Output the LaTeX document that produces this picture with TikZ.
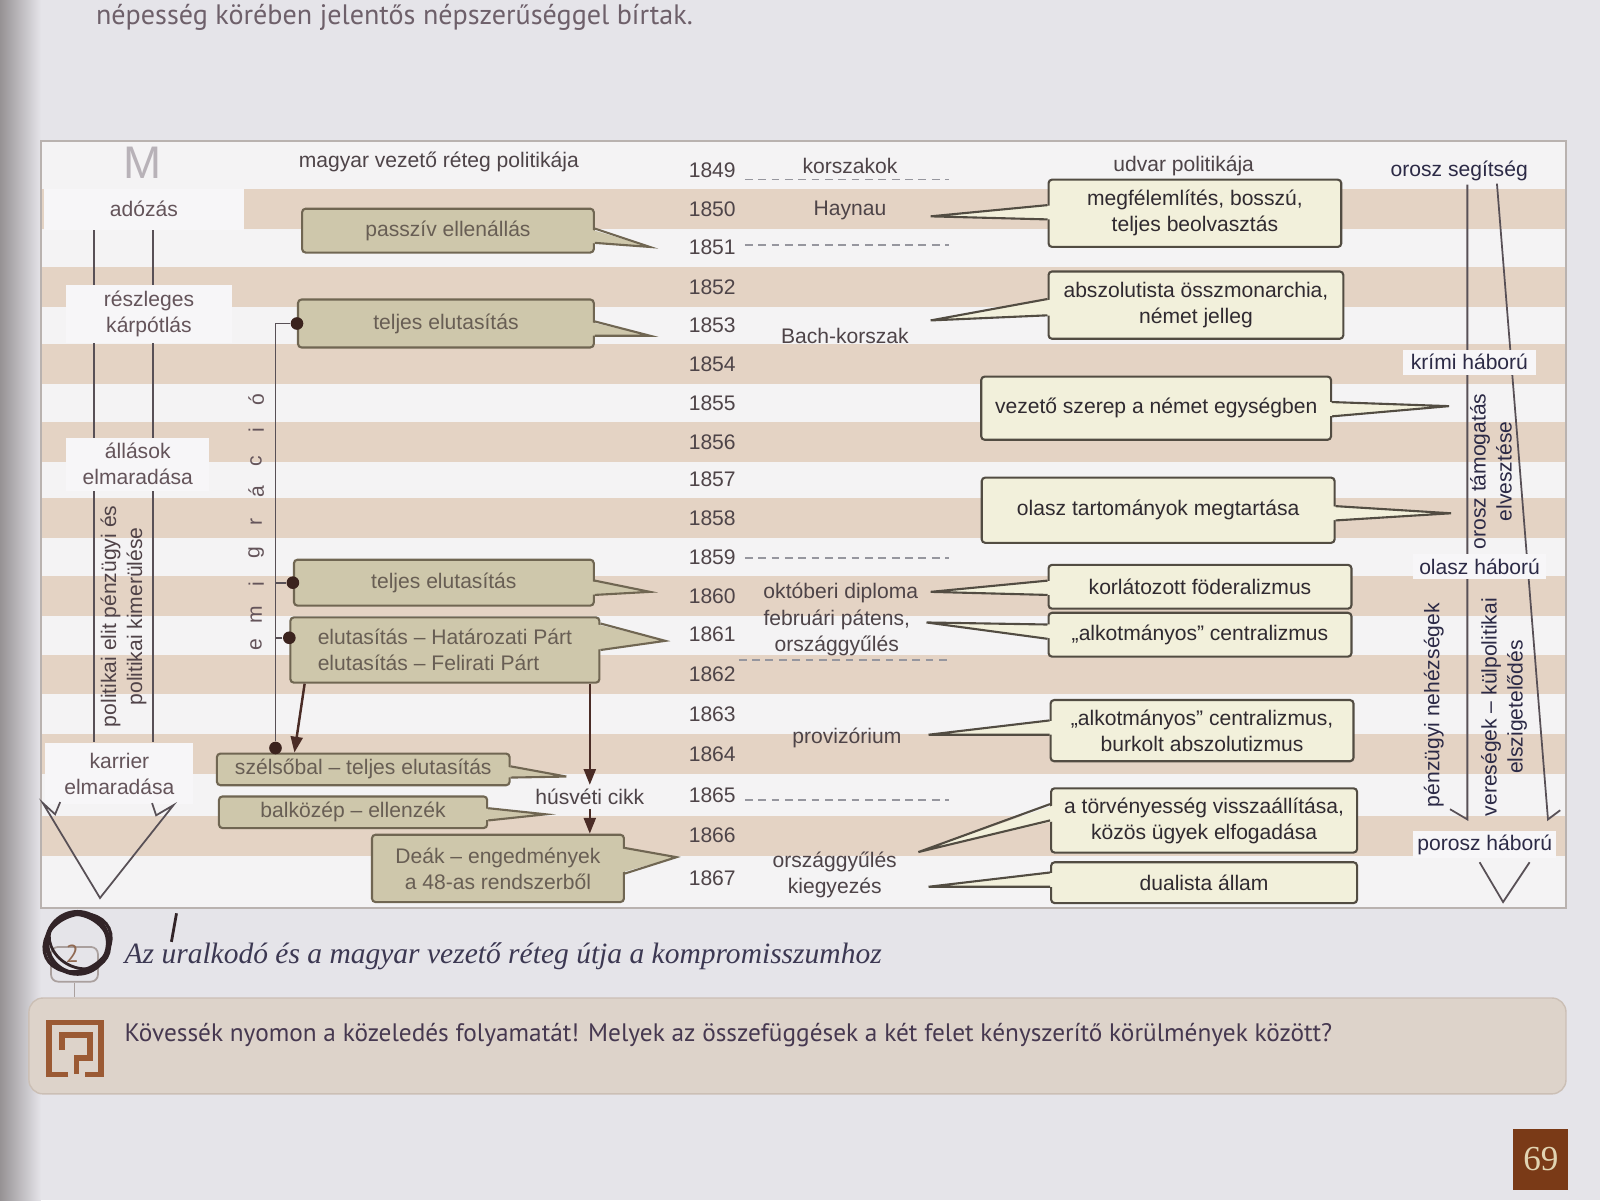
\documentclass[tikz,border=0pt]{standalone}
\usepackage{fontspec}
\setmainfont{Liberation Sans}
\newfontfamily\pagefont{PT Sans}
\newfontfamily\capfont{Liberation Serif}
\usetikzlibrary{arrows.meta,calc}

\pgfdeclarelayer{bg}
\pgfdeclarelayer{trend}
\pgfsetlayers{bg,trend,main}

\definecolor{pagebg}{RGB}{229,228,233}
\definecolor{spine}{RGB}{150,146,148}
\definecolor{framebg}{RGB}{244,243,244}
\definecolor{frameline}{RGB}{185,178,175}
\definecolor{stripe}{RGB}{228,211,196}
\definecolor{olivefill}{RGB}{206,199,171}
\definecolor{oliveline}{RGB}{112,102,82}
\definecolor{olivetext}{RGB}{104,94,84}
\definecolor{creamfill}{RGB}{242,240,219}
\definecolor{creamline}{RGB}{82,76,66}
\definecolor{creamtext}{RGB}{48,42,48}
\definecolor{whitelab}{RGB}{247,246,248}
\definecolor{lefttext}{RGB}{100,84,90}
\definecolor{righttext}{RGB}{44,42,70}
\definecolor{yeartext}{RGB}{78,68,72}
\definecolor{mlogo}{RGB}{184,178,184}
\definecolor{inkline}{RGB}{88,80,86}
\definecolor{arrowbrown}{RGB}{74,44,38}
\definecolor{dashgrey}{RGB}{150,150,158}
\definecolor{qfill}{RGB}{221,211,202}
\definecolor{qline}{RGB}{203,191,181}
\definecolor{qbrown}{RGB}{155,90,52}
\definecolor{qtext}{RGB}{70,56,80}
\definecolor{taggrey}{RGB}{170,160,158}
\definecolor{pnbrown}{RGB}{122,58,23}
\definecolor{pncream}{RGB}{225,212,178}
\definecolor{captext}{RGB}{60,56,82}
\definecolor{toptext}{RGB}{110,96,106}
\definecolor{pen}{RGB}{50,36,40}

\newcommand{\upx}{0.2903pt}
% speech-bubble tongue: colour prefix, box, side, two offsets, tip
\newcommand{\tongue}[6]{%
  \fill[#1fill] ($(#2.#3)!2pt!(#2.center)+(0,#4)$) -- (#6) -- ($(#2.#3)!2pt!(#2.center)+(0,#5)$) -- cycle;
  \draw[#1line, line width=0.6pt] ($(#2.#3)+(0,#4)$) -- (#6) -- ($(#2.#3)+(0,#5)$);}

\begin{document}
\begin{tikzpicture}[x=0.010204cm, y=-0.010204cm,
    every node/.style={font=\fontsize{6}{7.4}\selectfont, inner sep=1pt},
    boxsize/.style 2 args={minimum width=#1*\upx, minimum height=#2*\upx},
    olivebox/.style={draw=oliveline, fill=olivefill, text=olivetext, line width=0.6pt, rounded corners=1pt, align=center},
    creambox/.style={draw=creamline, fill=creamfill, text=creamtext, line width=0.6pt, rounded corners=1pt, align=center},
    leftlab/.style={fill=whitelab, text=lefttext, align=center},
    rightlab/.style={fill=whitelab, text=righttext, align=center},
    midlab/.style={text=yeartext, align=center},
    trendtext/.style={rotate=90, align=center},
    era/.style={draw=dashgrey, dash pattern=on 2.2pt off 1.6pt, line width=0.5pt},
    ink/.style={draw=inkline, line width=0.5pt, line join=miter},
    push/.style={draw=arrowbrown, line width=0.7pt, -{Triangle[length=4.5pt,width=3.4pt]}},
    dot/.style={circle, fill=arrowbrown!80!black, inner sep=0pt, minimum size=3.6pt}]
\useasboundingbox (0,0) rectangle (1568,1176);

\begin{pgfonlayer}{bg}
  \fill[pagebg] (0,0) rectangle (1568,1176);
  \shade[left color=spine, right color=pagebg] (0,0) rectangle (40,1176);
  \filldraw[fill=framebg, draw=frameline, line width=0.5pt] (40,138) rectangle (1535,890);
  \foreach \yy in {205,281,357,433,508,584,661,739,819}
    \fill[stripe] (41,\yy-19.5) rectangle (1534,\yy+19.5);
\end{pgfonlayer}

\node[anchor=base west, text=toptext, font=\pagefont\fontsize{8}{9}\selectfont] (TopLine) at (90,24) {népesség körében jelentős népszerűséggel bírtak.};

% years
\foreach \yr/\yy in {1849/167,1850/205,1851/242,1852/281,1853/319,1854/357,1855/395,1856/433,1857/470,1858/508,1859/546,1860/584,1861/622,1862/661,1863/700,1864/739,1865/779,1866/819,1867/861}
  \node[text=yeartext] (y\yr) at (698,\yy) {\yr};

% heads
\node[text=mlogo, font=\fontsize{13}{13}\selectfont] (Mlogo) at (140,160) {M};
\node[midlab] (HeadLeft) at (430,159) {magyar vezető réteg politikája};
\node[midlab] (Korszakok) at (833,163) {korszakok};
\node[midlab] (HeadRight) at (1160,163) {udvar politikája};
\node[text=righttext] (OroszSeg) at (1430,167) {orosz segítség};

% eras
\node[midlab] (Haynau) at (833,206) {Haynau};
\node[midlab] (Bach) at (828,329) {Bach-korszak};
\node[midlab] (Oktober) at (824,581) {októberi diploma};
\node[midlab] (Februar) at (820,620) {februári pátens,\\országgyűlés};
\node[midlab] (Proviz) at (830,723) {provizórium};
\node[midlab] (Kiegyezes) at (818,857) {országgyűlés\\kiegyezés};
\draw[era] (730,176) -- (930,176);
\draw[era] (730,240) -- (930,240);
\draw[era] (730,547) -- (930,547);
\draw[era] (724,647) -- (928,647);
\draw[era] (730,784) -- (930,784);

% left column
\node[leftlab, boxsize={196}{40}] (Adozas) at (141,205) {adózás};
\node[leftlab, boxsize={163}{57}] (Reszleges) at (146,308) {részleges\\kárpótlás};
\node[leftlab, boxsize={140}{52}] (Allasok) at (135,455) {állások\\elmaradása};
\node[leftlab, boxsize={145}{60}] (Karrier) at (117,758) {karrier\\elmaradása};
\node[trendtext, text=lefttext!80!black] (Kimerules) at (121,604) {politikai elit pénzügyi és\\politikai kimerülése};
\coordinate (colA) at (92,0);
\coordinate (colB) at (150,0);
\draw[ink] (59,786) -- (54,798) -- (42,787) -- (98,880) -- (170,789) -- (153,799) -- (149,787);

% magyar side
\node[olivebox, boxsize={286}{43}] (Passziv) at (439,226) {passzív ellenállás};
\node[olivebox, boxsize={290}{47}] (Teljes1) at (437,317) {teljes elutasítás};
\node[olivebox, boxsize={294}{45}] (Teljes2) at (435,571) {teljes elutasítás};
\node[olivebox, boxsize={303}{64}, align=left] (Elutasitas) at (436,637) {elutasítás – Határozati Párt\\elutasítás – Felirati Párt};
\node[olivebox, boxsize={287}{31}] (Szelsobal) at (356,754) {szélsőbal – teljes elutasítás};
\node[olivebox, boxsize={263}{31}] (Balkozep) at (346,796) {balközép – ellenzék};
\node[olivebox, boxsize={247}{66}] (Deak) at (488,851) {Deák – engedmények\\a 48-as rendszerből};
\node[midlab] (Husvet) at (578,781) {húsvéti cikk};

\coordinate (tPassziv) at (637,242);
\coordinate (tTeljes1) at (637,329);
\coordinate (tTeljes2) at (637,580);
\coordinate (tElutasitas) at (652,628);
\coordinate (tSzelsobal) at (555,761);
\coordinate (tBalkozep) at (535,798);
\coordinate (tDeak) at (663,840);
\tongue{olive}{Passziv}{east}{-2}{12}{tPassziv}
\tongue{olive}{Teljes1}{east}{-2}{12}{tTeljes1}
\tongue{olive}{Teljes2}{east}{-2}{12}{tTeljes2}
\tongue{olive}{Elutasitas}{east}{-26}{0}{tElutasitas}
\tongue{olive}{Szelsobal}{east}{-3}{8}{tSzelsobal}
\tongue{olive}{Balkozep}{east}{-4}{8}{tBalkozep}
\tongue{olive}{Deak}{east}{-20}{5}{tDeak}

% emigracio
\node[dot] (d1) at (Teljes1.west) {};
\node[dot] (d2) at (Teljes2.west) {};
\node[dot] (d3) at ($(Elutasitas.west)+(0,-12)$) {};
\node[dot] (d4) at (270,733) {};
\draw[ink] (d1) -| (d4);
\draw[ink] (d2) -- (d2 -| d4);
\draw[ink] (d3) -- (d3 -| d4);
\foreach \l [count=\i] in {e,m,i,g,r,á,c,i,ó}
  \node[rotate=90, text=lefttext] (em\i) at (251,632-30*\i+30) {\l};
\draw[push] ($(Elutasitas.south west)+(15,0)$) -- ($(Szelsobal.north west)+(77,0)$);
\draw[push] (Elutasitas.south -| Husvet.north) -- (Husvet.north);
\draw[push] (Husvet.south) -- (Husvet.south |- Deak.north);

% udvar side
\node[creambox, boxsize={287}{66}] (Megfelemlites) at (1171,209) {megfélemlítés, bosszú,\\teljes beolvasztás};
\node[creambox, boxsize={289}{66}] (Abszolutista) at (1172,299) {abszolutista összmonarchia,\\német jelleg};
\node[creambox, boxsize={343}{62}] (Vezeto) at (1133,400) {vezető szerep a német egységben};
\node[creambox, boxsize={346}{64}] (OlaszTart) at (1135,500) {olasz tartományok megtartása};
\node[creambox, boxsize={297}{43}] (Korlatozott) at (1176,575) {korlátozott föderalizmus};
\node[creambox, boxsize={297}{43}] (Alkotmanyos1) at (1176,622) {„alkotmányos” centralizmus};
\node[creambox, boxsize={297}{60}] (Alkotmanyos2) at (1178,716) {„alkotmányos” centralizmus,\\burkolt abszolutizmus};
\node[creambox, boxsize={300}{63}] (Torvenyesseg) at (1180,804) {a törvényesség visszaállítása,\\közös ügyek elfogadása};
\node[creambox, boxsize={300}{40}] (Dualista) at (1180,865) {dualista állam};

\coordinate (tMegfelemlites) at (912,212);
\coordinate (tAbszolutista) at (912,314);
\coordinate (tVezeto) at (1420,398);
\coordinate (tOlaszTart) at (1422,503);
\coordinate (tKorlatozott) at (912,580);
\coordinate (tAlkotmanyos1) at (908,610);
\coordinate (tAlkotmanyos2) at (910,720);
\coordinate (tTorvenyesseg) at (900,835);
\coordinate (tDualista) at (910,869);
\tongue{cream}{Megfelemlites}{west}{-8}{6}{tMegfelemlites}
\tongue{cream}{Abszolutista}{west}{-6}{10}{tAbszolutista}
\tongue{cream}{Vezeto}{east}{-6}{8}{tVezeto}
\tongue{cream}{OlaszTart}{east}{-4}{10}{tOlaszTart}
\tongue{cream}{Korlatozott}{west}{-6}{8}{tKorlatozott}
\tongue{cream}{Alkotmanyos1}{west}{-10}{4}{tAlkotmanyos1}
\tongue{cream}{Alkotmanyos2}{west}{-10}{4}{tAlkotmanyos2}
\tongue{cream}{Torvenyesseg}{west}{-16}{0}{tTorvenyesseg}
\tongue{cream}{Dualista}{west}{-10}{4}{tDualista}

% right column
\node[rightlab, boxsize={130}{25}] (Krimi) at (1440,355) {krími háború};
\node[rightlab, boxsize={130}{24}] (Olasz) at (1450,555) {olasz háború};
\node[rightlab, boxsize={140}{25}] (Porosz) at (1455,828) {porosz háború};
\node[trendtext, text=righttext] (Tamogatas) at (1461,462) {orosz támogatás\\elvesztése};
\node[trendtext, text=righttext] (Penzugyi) at (1405,691) {pénzügyi nehézségek};
\node[trendtext, text=righttext] (Veresegek) at (1474,693) {vereségek – külpolitikai\\elszigetelődés};
\coordinate (rA1) at (1438,181);
\coordinate (rA2) at (1438,803);
\coordinate (rB1) at (1467,180);
\coordinate (rB2) at (1517,803);
\draw[ink] (1450,845) -- (1473,884) -- (1499,845);

\begin{pgfonlayer}{trend}
  \draw[ink] (Adozas.south -| colA) -- (Karrier.north -| colA);
  \draw[ink] (Adozas.south -| colB) -- (Karrier.north -| colB);
  \draw[ink] (rA1) -- (rA2) -- (1421,793);
  \draw[ink] (rB1) -- (rB2) -- (1529,794);
\end{pgfonlayer}

% caption and task
\node[draw=qline, fill=qfill, rounded corners=4pt, boxsize={1507}{94}] (Qbox) at (781.5,1025) {};
\draw[qbrown, line width=1.6pt] (67,1053) -- (48,1053) -- (48,1002) -- (99,1002) -- (99,1053) -- (83,1053);
\draw[qbrown, line width=1.6pt] (61,1029) -- (61,1014) -- (88,1014) -- (88,1037) -- (75,1037) -- (75,1052);
\node[anchor=base west, text=qtext, font=\pagefont\fontsize{7.2}{8}\selectfont] (Qtext) at (118,1021) {Kövessék nyomon a közeledés folyamatát! Melyek az összefüggések a két felet kényszerítő körülmények között?};
\node[draw=taggrey, rounded corners=2pt, boxsize={46}{34}, line width=0.5pt] (Tag) at (73,945) {};
\draw[taggrey, line width=0.5pt] (Tag.south) -- (Tag.south |- Qbox.north);
\node[text=qbrown!60!gray, font=\pagefont\fontsize{7}{7}\selectfont] (TagNo) at (71,935) {2};
\draw[pen, line width=1.3pt] (76,924) circle [radius=30];
\draw[pen, line width=0.9pt, rotate around={25:(76,924)}] (76,924) ellipse [x radius=34, y radius=27];
\draw[pen, line width=0.8pt, rotate around={-30:(76,924)}] (77,922) ellipse [x radius=31, y radius=25];
\draw[pen, line width=0.8pt] (173,895) -- (168,923);
\node[anchor=base west, text=captext, font=\capfont\itshape\fontsize{8.4}{10}\selectfont] (Caption) at (118,944) {Az uralkodó és a magyar vezető réteg útja a kompromisszumhoz};
\node[fill=pnbrown, text=pncream, boxsize={54}{60}, font=\capfont\fontsize{10}{10}\selectfont] (PageNo) at (1510,1136) {69};
\end{tikzpicture}
\end{document}
